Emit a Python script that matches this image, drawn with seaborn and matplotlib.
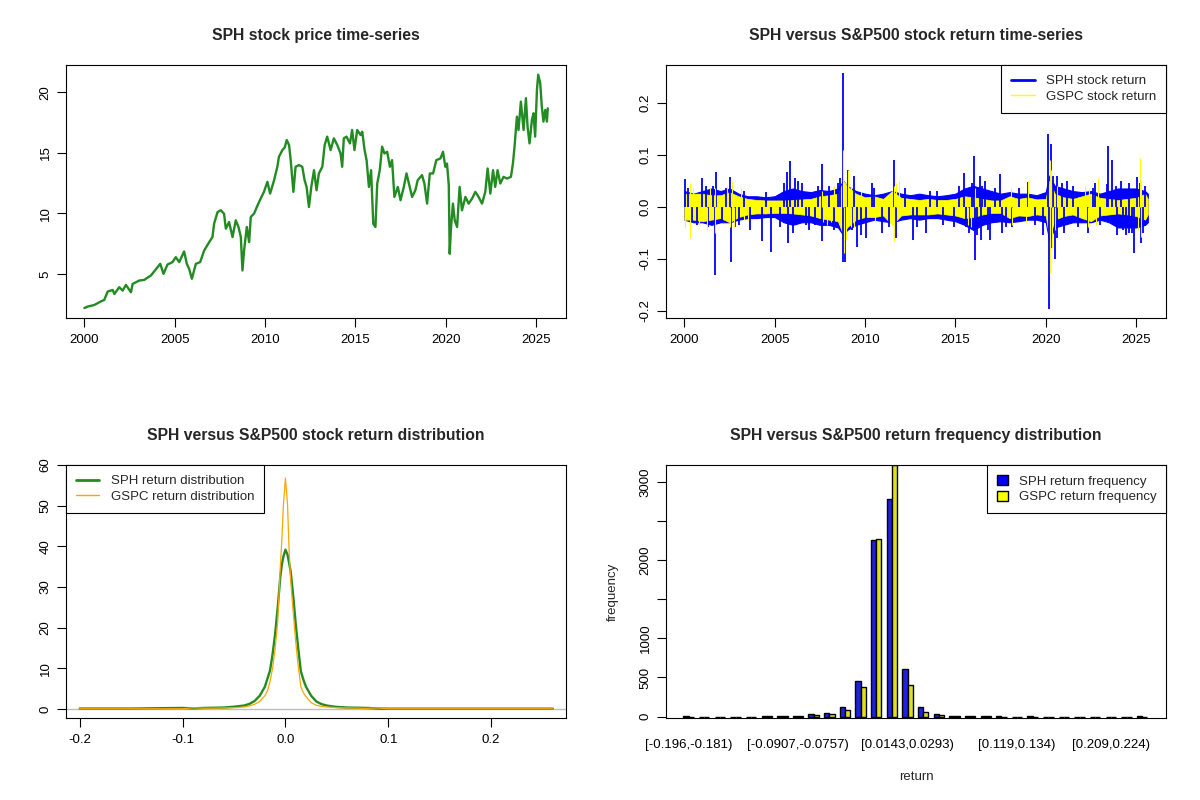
import pandas as pd
import seaborn as sns
import matplotlib.pyplot as plt
from matplotlib.lines import Line2D
from matplotlib.patches import Patch

# SPH close price (decimal year, price)
price_year = [2000.00, 2000.18, 2000.55, 2000.92, 2001.10, 2001.29, 2001.57, 2001.66, 2001.93, 2002.12,
              2002.30, 2002.58, 2002.67, 2003.04, 2003.31, 2003.68, 2004.05, 2004.20, 2004.38, 2004.60,
              2004.88, 2005.06, 2005.25, 2005.52, 2005.67, 2005.80, 2005.95, 2006.17, 2006.41, 2006.63,
              2006.91, 2007.09, 2007.18, 2007.37, 2007.55, 2007.73, 2007.83, 2008.01, 2008.20, 2008.38,
              2008.53, 2008.66, 2008.75, 2008.84, 2008.99, 2009.12, 2009.21, 2009.39, 2009.54, 2009.72,
              2009.94, 2010.13, 2010.28, 2010.50, 2010.68, 2010.77, 2010.96, 2011.09, 2011.20, 2011.33,
              2011.42, 2011.57, 2011.69, 2011.88, 2012.06, 2012.19, 2012.30, 2012.43, 2012.56, 2012.71,
              2012.85, 2012.98, 2013.17, 2013.30, 2013.44, 2013.63, 2013.81, 2014.00, 2014.18, 2014.27,
              2014.36, 2014.51, 2014.70, 2014.82, 2014.95, 2015.10, 2015.29, 2015.38, 2015.51, 2015.62,
              2015.75, 2015.87, 2015.99, 2016.11, 2016.21, 2016.35, 2016.48, 2016.61, 2016.76, 2016.91,
              2017.03, 2017.16, 2017.35, 2017.50, 2017.68, 2017.83, 2018.01, 2018.14, 2018.32, 2018.45,
              2018.69, 2018.82, 2018.97, 2019.12, 2019.30, 2019.48, 2019.71, 2019.85, 2019.98, 2020.07,
              2020.17, 2020.22, 2020.29, 2020.40, 2020.50, 2020.63, 2020.77, 2020.90, 2021.09, 2021.27,
              2021.46, 2021.64, 2021.82, 2022.01, 2022.19, 2022.32, 2022.47, 2022.62, 2022.74, 2022.87,
              2023.02, 2023.20, 2023.39, 2023.61, 2023.72, 2023.81, 2023.94, 2024.03, 2024.16, 2024.31,
              2024.44, 2024.53, 2024.64, 2024.77, 2024.86, 2024.95, 2025.05, 2025.12, 2025.23, 2025.32,
              2025.41, 2025.51, 2025.60, 2025.65]
price_close = [2.18, 2.30, 2.43, 2.73, 2.85, 3.54, 3.67, 3.34, 3.90, 3.62,
               4.09, 3.48, 4.17, 4.45, 4.50, 4.86, 5.55, 5.83, 5.00, 5.77,
               5.97, 6.38, 5.97, 6.85, 5.83, 5.41, 4.59, 5.83, 5.97, 6.93,
               7.62, 8.04, 9.14, 10.10, 10.25, 9.97, 8.73, 9.28, 8.04, 9.42,
               8.87, 8.04, 5.28, 6.93, 8.87, 7.62, 9.70, 9.97, 10.50, 11.10,
               11.77, 12.60, 11.63, 12.73, 13.84, 14.67, 15.22, 15.44, 16.05, 15.63,
               14.39, 11.77, 13.84, 13.98, 13.84, 12.73, 12.18, 10.52, 12.18, 13.56,
               11.90, 13.29, 13.84, 15.63, 16.33, 15.22, 16.19, 15.63, 14.94, 13.84,
               16.19, 16.33, 15.77, 16.88, 15.22, 16.88, 16.46, 16.74, 15.22, 14.39,
               12.18, 13.56, 9.14, 8.87, 12.46, 13.56, 15.50, 14.94, 15.08, 13.84,
               14.39, 11.35, 12.18, 11.08, 12.18, 13.29, 12.18, 11.35, 11.90, 12.73,
               13.15, 12.46, 10.80, 13.29, 13.29, 14.39, 14.53, 15.08, 13.84, 14.11,
               12.32, 6.66, 8.73, 10.80, 9.42, 8.87, 12.18, 10.25, 11.35, 10.80,
               11.22, 11.77, 11.35, 10.80, 11.77, 13.70, 11.63, 13.56, 12.18, 13.56,
               12.46, 13.01, 12.87, 13.01, 14.11, 15.50, 17.98, 16.88, 19.22, 16.88,
               19.50, 17.15, 15.77, 17.70, 18.26, 16.33, 20.19, 21.44, 20.75, 18.81,
               17.57, 18.53, 17.57, 18.67]

# dense part of the daily returns: high / low edge of the strokes, read per half year
ret_env_year = [2000.0, 2000.5, 2001.0, 2001.5, 2002.0, 2002.5, 2003.0, 2003.5, 2004.0, 2004.5,
                2005.0, 2005.5, 2006.0, 2006.5, 2007.0, 2007.5, 2008.0, 2008.5, 2008.8, 2009.0,
                2009.5, 2010.0, 2010.5, 2011.0, 2011.5, 2012.0, 2012.5, 2013.0, 2013.5, 2014.0,
                2014.5, 2015.0, 2015.5, 2016.0, 2016.5, 2017.0, 2017.5, 2018.0, 2018.5, 2019.0,
                2019.5, 2020.0, 2020.2, 2020.5, 2021.0, 2021.5, 2022.0, 2022.5, 2023.0, 2023.5,
                2024.0, 2024.5, 2025.0, 2025.5, 2025.65]
sph_env_hi = [0.030, 0.025, 0.030, 0.035, 0.030, 0.035, 0.025, 0.020, 0.020, 0.018,
              0.020, 0.030, 0.035, 0.030, 0.028, 0.032, 0.030, 0.035, 0.050, 0.040,
              0.030, 0.025, 0.022, 0.025, 0.030, 0.025, 0.022, 0.025, 0.022, 0.020,
              0.022, 0.025, 0.035, 0.040, 0.035, 0.030, 0.025, 0.028, 0.025, 0.025,
              0.022, 0.028, 0.060, 0.040, 0.035, 0.030, 0.028, 0.030, 0.025, 0.030,
              0.035, 0.035, 0.035, 0.030, 0.025]
sph_env_lo = [-0.025, -0.030, -0.030, -0.035, -0.030, -0.030, -0.025, -0.022, -0.022, -0.020,
              -0.020, -0.030, -0.035, -0.030, -0.030, -0.035, -0.035, -0.040, -0.055, -0.045,
              -0.035, -0.030, -0.025, -0.028, -0.030, -0.025, -0.022, -0.025, -0.022, -0.022,
              -0.025, -0.028, -0.035, -0.045, -0.035, -0.030, -0.028, -0.030, -0.028, -0.025,
              -0.025, -0.030, -0.065, -0.040, -0.035, -0.030, -0.030, -0.030, -0.025, -0.030,
              -0.040, -0.040, -0.040, -0.035, -0.030]
gspc_env_hi = [0.025, 0.025, 0.025, 0.022, 0.022, 0.028, 0.020, 0.015, 0.013, 0.012,
               0.012, 0.012, 0.013, 0.014, 0.015, 0.020, 0.022, 0.025, 0.050, 0.040,
               0.025, 0.018, 0.020, 0.015, 0.030, 0.017, 0.015, 0.013, 0.015, 0.013,
               0.013, 0.015, 0.020, 0.018, 0.015, 0.012, 0.012, 0.020, 0.015, 0.018,
               0.014, 0.015, 0.050, 0.025, 0.018, 0.015, 0.020, 0.025, 0.017, 0.015,
               0.013, 0.015, 0.017, 0.025, 0.015]
gspc_env_lo = [-0.025, -0.025, -0.028, -0.025, -0.022, -0.030, -0.020, -0.015, -0.013, -0.013,
               -0.012, -0.012, -0.013, -0.015, -0.017, -0.022, -0.025, -0.028, -0.055, -0.040,
               -0.025, -0.020, -0.020, -0.017, -0.035, -0.017, -0.015, -0.015, -0.015, -0.013,
               -0.015, -0.017, -0.022, -0.020, -0.015, -0.012, -0.012, -0.022, -0.017, -0.018,
               -0.015, -0.017, -0.060, -0.025, -0.018, -0.015, -0.022, -0.028, -0.017, -0.015,
               -0.013, -0.015, -0.018, -0.025, -0.015]

# single-day moves standing out of the band
sph_spike_year = [2000.04, 2000.20, 2000.44, 2000.70, 2000.95, 2001.20, 2001.30, 2001.58, 2001.67, 2001.77,
                  2002.09, 2002.30, 2002.53, 2002.57, 2002.80, 2003.04, 2003.30, 2003.61, 2004.28, 2004.50,
                  2004.79, 2005.30, 2005.50, 2005.70, 2005.76, 2005.86, 2006.00, 2006.10, 2006.27, 2006.50,
                  2006.75, 2006.90, 2007.22, 2007.40, 2007.60, 2007.64, 2007.98, 2008.30, 2008.50, 2008.61,
                  2008.76, 2008.80, 2008.90, 2009.03, 2009.26, 2009.40, 2009.56, 2009.80, 2010.08, 2010.36,
                  2010.50, 2010.93, 2011.30, 2011.60, 2011.69, 2012.20, 2012.64, 2012.90, 2013.35, 2013.60,
                  2013.97, 2014.30, 2014.92, 2015.20, 2015.49, 2015.60, 2015.78, 2015.90, 2016.03, 2016.10,
                  2016.20, 2016.35, 2016.44, 2016.50, 2016.63, 2016.80, 2016.92, 2017.20, 2017.45, 2017.59,
                  2017.80, 2018.16, 2018.50, 2019.01, 2019.40, 2019.83, 2020.15, 2020.19, 2020.29, 2020.34,
                  2020.40, 2020.49, 2020.60, 2020.63, 2020.90, 2021.00, 2021.20, 2021.50, 2021.80, 2022.34,
                  2022.60, 2022.72, 2023.00, 2023.38, 2023.42, 2023.67, 2023.90, 2023.95, 2024.14, 2024.30,
                  2024.43, 2024.60, 2024.62, 2024.80, 2024.90, 2025.04, 2025.20, 2025.29, 2025.40, 2025.48]
sph_spike_ret = [0.053, 0.035, -0.030, -0.035, 0.055, 0.040, -0.040, 0.040, -0.132, 0.066,
                 -0.030, 0.035, 0.058, -0.106, -0.040, -0.035, 0.030, -0.045, -0.067, 0.028,
                 -0.087, -0.040, 0.045, 0.066, -0.070, 0.087, -0.050, 0.055, 0.050, 0.045,
                 -0.035, -0.045, -0.035, 0.040, 0.083, -0.067, 0.040, -0.045, 0.045, 0.055,
                 0.257, -0.107, -0.107, 0.070, -0.045, 0.060, -0.077, -0.055, -0.060, 0.045,
                 0.035, -0.050, -0.040, 0.090, -0.060, 0.035, -0.065, -0.040, -0.050, 0.030,
                 0.030, -0.035, -0.040, 0.040, 0.065, -0.040, -0.050, 0.045, 0.098, -0.102,
                 -0.055, 0.060, -0.065, 0.040, 0.050, -0.045, -0.065, 0.035, 0.062, -0.050,
                 -0.040, -0.040, 0.035, 0.048, -0.035, -0.055, 0.140, -0.197, 0.120, -0.080,
                 0.060, -0.100, -0.060, 0.060, 0.045, -0.050, 0.050, 0.040, -0.040, -0.050,
                 0.035, 0.045, -0.035, 0.043, 0.116, 0.090, 0.040, -0.055, 0.050, -0.045,
                 -0.055, 0.045, -0.050, -0.050, -0.090, 0.058, 0.045, -0.070, -0.050, 0.040]
gspc_spike_year = [2000.06, 2000.29, 2000.30, 2000.50, 2000.80, 2001.24, 2001.43, 2001.70, 2001.71, 2002.38,
                   2002.50, 2002.66, 2002.76, 2003.14, 2003.30, 2003.52, 2007.60, 2007.70, 2007.89, 2008.10,
                   2008.27, 2008.80, 2008.84, 2008.94, 2009.03, 2009.20, 2009.22, 2009.41, 2009.79, 2010.55,
                   2011.60, 2011.62, 2011.69, 2011.88, 2015.70, 2015.87, 2016.06, 2018.10, 2018.16, 2018.90,
                   2019.01, 2020.21, 2020.23, 2020.29, 2020.30, 2020.36, 2020.50, 2020.63, 2022.15, 2022.34,
                   2022.40, 2022.80, 2022.91, 2025.10, 2025.23, 2025.29, 2025.30]
gspc_spike_ret = [-0.040, -0.060, 0.045, 0.035, -0.035, -0.045, 0.035, 0.035, -0.050, 0.040,
                  -0.040, 0.050, -0.040, 0.035, -0.025, -0.025, 0.030, -0.030, -0.035, -0.030,
                  0.040, 0.110, -0.090, -0.065, 0.070, -0.040, 0.040, -0.040, 0.030, -0.030,
                  -0.067, 0.040, 0.045, 0.050, -0.035, -0.040, 0.035, 0.035, -0.035, -0.030,
                  0.050, 0.090, -0.127, 0.070, 0.050, -0.080, -0.045, 0.040, 0.040, -0.040,
                  0.035, -0.035, 0.055, -0.045, 0.093, -0.058, 0.050]

# return density curves
dens_x = [-0.2, -0.15, -0.1, -0.09, -0.08, -0.07, -0.06, -0.05, -0.045, -0.04, -0.035, -0.03, -0.025,
          -0.02, -0.0175, -0.015, -0.0125, -0.01, -0.0075, -0.005, -0.0035, -0.002, 0.0, 0.002, 0.0035,
          0.005, 0.0075, 0.01, 0.0125, 0.015, 0.0175, 0.02, 0.025, 0.03, 0.035, 0.04, 0.045, 0.05,
          0.06, 0.07, 0.08, 0.09, 0.1, 0.15, 0.2, 0.26]
dens_sph = [0.15, 0.15, 0.3, 0.2, 0.3, 0.35, 0.4, 0.6, 0.75, 0.9, 1.3, 2.0, 3.3,
            5.5, 7.5, 9.5, 13.5, 18.5, 25.0, 32.5, 35.5, 37.5, 39.2, 38.0, 36.0,
            34.0, 28.0, 21.0, 14.8, 9.3, 7.2, 5.5, 3.3, 1.9, 1.25, 0.9, 0.7, 0.55,
            0.4, 0.35, 0.3, 0.15, 0.12, 0.12, 0.12, 0.12]
dens_gspc = [0.1, 0.1, 0.1, 0.35, 0.25, 0.25, 0.3, 0.35, 0.45, 0.55, 0.8, 1.2, 1.9,
             3.3, 4.5, 6.8, 10.0, 15.0, 21.5, 35.0, 41.6, 50.0, 56.8, 50.5, 39.5,
             32.0, 24.0, 16.5, 10.5, 5.5, 4.0, 3.1, 1.6, 0.95, 0.7, 0.55, 0.45, 0.35,
             0.3, 0.25, 0.2, 0.3, 0.1, 0.1, 0.1, 0.1]

# return frequency per bin (30 bins of width ~0.015 from -0.196)
hist_sph = [1, 0, 0, 0, 0, 2, 4, 4, 34, 47, 124, 456, 2256, 2782, 603,
            128, 38, 10, 6, 2, 1, 0, 1, 0, 0, 0, 0, 0, 0, 1]
hist_gspc = [0, 0, 0, 0, 0, 1, 3, 2, 21, 34, 85, 375, 2269, 3218, 397,
             64, 17, 6, 2, 3, 0, 0, 0, 0, 0, 0, 0, 0, 0, 0]
hist_tick_pos = [0, 7, 14, 21, 27]
hist_tick_lab = ["[-0.196,-0.181)", "[-0.0907,-0.0757)", "[0.0143,0.0293)", "[0.119,0.134)", "[0.209,0.224)"]

sns.set_style("ticks")
plt.rcParams["font.family"] = ["Liberation Sans", "DejaVu Sans"]

GREEN = "#228B22"
FS = 9.5


def style_axes(ax, title):
    for s in ax.spines.values():
        s.set_visible(True)
        s.set_color("black")
        s.set_linewidth(0.8)
    ax.tick_params(direction="out", length=6.3, width=0.8, labelsize=FS, colors="black")
    ax.tick_params(axis="x", pad=5)
    ax.tick_params(axis="y", labelrotation=90, pad=4)
    for lab in ax.get_yticklabels():
        lab.set_va("center")
    ax.text(0.5, 1.118, title, transform=ax.transAxes, ha="center", va="center",
            fontsize=11.3, fontweight="bold")
    ax.set_xlabel("")
    ax.set_ylabel("")


def legend_box(ax, handles, labels, loc, hl=1.8, hh=0.7):
    leg = ax.legend(handles, labels, loc=loc, borderaxespad=0, fontsize=FS, fancybox=False,
                    framealpha=1, edgecolor="black", handlelength=hl, handleheight=hh,
                    handletextpad=0.85, borderpad=0.75, labelspacing=0.25)
    leg.get_frame().set_linewidth(0.8)
    return leg


fig = plt.figure(figsize=(12, 8), dpi=100)
L1, L2, W = 0.0548, 0.5548, 0.4172
B1, B2, H = 0.6021, 0.1021, 0.3166
ax1 = fig.add_axes([L1, B1, W, H])
ax2 = fig.add_axes([L2, B1, W, H])
ax3 = fig.add_axes([L1, B2, W, H])
ax4 = fig.add_axes([L2, B2, W, H])

# panel 1: price
sns.lineplot(x=price_year, y=price_close, ax=ax1, color=GREEN, linewidth=1.7)
ax1.set_xlim(1998.97, 2026.68)
ax1.set_ylim(1.33, 22.24)
ax1.set_xticks([2000, 2005, 2010, 2015, 2020, 2025])
ax1.set_yticks([5, 10, 15, 20])
style_axes(ax1, "SPH stock price time-series")

# panel 2: returns (blue under yellow, as in the original)
ax2.fill_between(ret_env_year, sph_env_lo, sph_env_hi, color="blue", linewidth=0.8, edgecolor="blue")
ax2.vlines(sph_spike_year, 0, sph_spike_ret, color="blue", linewidth=1.3)
ax2.fill_between(ret_env_year, gspc_env_lo, gspc_env_hi, color="yellow", linewidth=0.5, edgecolor="yellow")
ax2.vlines(gspc_spike_year, 0, gspc_spike_ret, color="yellow", linewidth=0.8)
ax2.set_xlim(1998.97, 2026.68)
ax2.set_ylim(-0.215, 0.2727)
ax2.set_xticks([2000, 2005, 2010, 2015, 2020, 2025])
ax2.set_yticks([-0.2, -0.1, 0.0, 0.1, 0.2])
ax2.set_yticklabels(["-0.2", "-0.1", "0.0", "0.1", "0.2"])
style_axes(ax2, "SPH versus S&P500 stock return time-series")
legend_box(ax2, [Line2D([], [], color="blue", lw=2), Line2D([], [], color="yellow", lw=1)],
           ["SPH stock return", "GSPC stock return"], "upper right")

# panel 3: densities
ax3.axhline(0, color="#BEBEBE", linewidth=1)
sns.lineplot(x=dens_x, y=dens_sph, ax=ax3, color=GREEN, linewidth=1.7)
sns.lineplot(x=dens_x, y=dens_gspc, ax=ax3, color="orange", linewidth=0.9)
ax3.set_xlim(-0.2136, 0.2732)
ax3.set_ylim(-2.25, 60)
ax3.set_xticks([-0.2, -0.1, 0.0, 0.1, 0.2])
ax3.set_xticklabels(["-0.2", "-0.1", "0.0", "0.1", "0.2"])
ax3.set_yticks([0, 10, 20, 30, 40, 50, 60])
style_axes(ax3, "SPH versus S&P500 stock return distribution")
legend_box(ax3, [Line2D([], [], color=GREEN, lw=2), Line2D([], [], color="orange", lw=1)],
           ["SPH return distribution", "GSPC return distribution"], "upper left")

# panel 4: frequency bars
n = len(hist_sph)
hist_df = pd.DataFrame({
    "bin": list(range(n)) * 2,
    "count": hist_sph + hist_gspc,
    "series": ["SPH"] * n + ["GSPC"] * n,
})
sns.barplot(data=hist_df, x="bin", y="count", hue="series", ax=ax4,
            palette=["blue", "yellow"], edgecolor="black", linewidth=1,
            width=0.667, gap=0, errorbar=None, legend=False)
ax4.set_xlim(-1.46, 30.55)
ax4.set_ylim(-23, 3218)
ax4.set_xticks(hist_tick_pos)
ax4.set_xticklabels(hist_tick_lab)
ax4.set_yticks([0, 500, 1000, 1500, 2000, 2500, 3000])
ax4.set_yticklabels(["0", "500", "1000", "", "2000", "", "3000"])
style_axes(ax4, "SPH versus S&P500 return frequency distribution")
ax4.tick_params(axis="x", length=0, pad=15)
ax4.set_xlabel("return", fontsize=FS, labelpad=14)
ax4.set_ylabel("frequency", fontsize=FS, labelpad=15)
legend_box(ax4, [Patch(facecolor="blue", edgecolor="black"), Patch(facecolor="yellow", edgecolor="black")],
           ["SPH return frequency", "GSPC return frequency"], "upper right", hl=0.8, hh=0.8)

fig.savefig("out.png", dpi=100)
